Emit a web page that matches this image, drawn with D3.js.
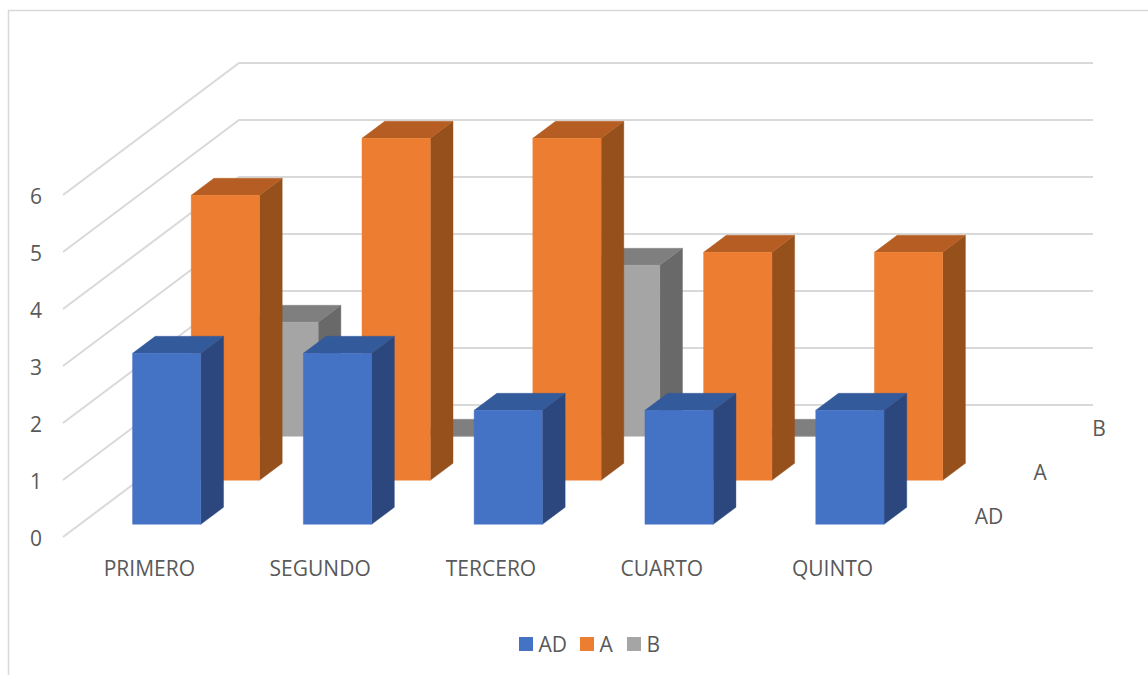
<!DOCTYPE html>
<html>
<head>
<meta charset="utf-8">
<script src="https://cdn.jsdelivr.net/npm/d3@7"></script>
<style>
html,body{margin:0;padding:0;background:#fff;overflow:hidden}
svg{display:block}
text{font-family:"Open Sans",sans-serif;fill:#595959}
</style>
</head>
<body>
<svg id="chart" width="1148" height="675"></svg>
<script>
const categories = ["PRIMERO","SEGUNDO","TERCERO","CUARTO","QUINTO"];
const seriesNames = ["AD","A","B"];
const valuesAD = [3,3,2,2,2];
const valuesA = [5,6,6,4,4];
const valuesB = [2,0,3,0,null];
const yTicks = [0,1,2,3,4,5,6];
const frontColors = ["#4472C4","#ED7D31","#A5A5A5"];
const topColors = ["#335A9A","#B55D22","#7F7F7F"];
const sideColors = ["#2B477E","#95501C","#696969"];

const allValues = [valuesAD, valuesA, valuesB];
const svg = d3.select("#chart");
const fontSize = 21;

// oblique projection
const originX = 63, originY = 537, depthX = 176, depthY = 132;
const xBand = d3.scaleBand().domain(categories).range([0,854]);
const zBand = d3.scaleBand().domain(seriesNames).range([0,1]);
const yScale = d3.scaleLinear().domain([0,6]).range([0,342]);
const px = (x,z) => originX + x + depthX*z;
const py = (v,z) => originY - yScale(v) - depthY*z;
const pt = (x,v,z) => [px(x,z), py(v,z)];
const path = d3.line();
const poly = pts => path(pts) + "Z";

// chart frame
svg.append("path").attr("d","M8.5,675V10.5H1148").attr("fill","none").attr("stroke","#D9D9D9").attr("stroke-width",1.5);

// walls' gridlines
svg.append("g").selectAll("path").data(yTicks).join("path")
  .attr("d", v => path([pt(0,v,0), pt(0,v,1), pt(854,v,1)]))
  .attr("fill","none").attr("stroke","#D9D9D9").attr("stroke-width",2);

// bars, back to front
const barW = xBand.bandwidth()*0.4;
const barD = zBand.bandwidth()*0.387;
[2,1,0].forEach(si => {
  const g = svg.append("g").attr("transform","translate(0.3,0.8)");
  const name = seriesNames[si];
  const zc = zBand(name) + zBand.bandwidth()/2;
  const z0 = zc - barD/2, z1 = zc + barD/2;
  categories.forEach((c,ci) => {
    const v = allValues[si][ci];
    if (v === null) return;
    const x0 = xBand(c) + xBand.bandwidth()/2 - barW/2, x1 = x0 + barW;
    const faces = [
      [sideColors[si], [pt(x1,0,z0), pt(x1,0,z1), pt(x1,v,z1), pt(x1,v,z0)]],
      [topColors[si], [pt(x0,v,z0), pt(x1,v,z0), pt(x1,v,z1), pt(x0,v,z1)]],
      [frontColors[si], [pt(x0,0,z0), pt(x1,0,z0), pt(x1,v,z0), pt(x0,v,z0)]]
    ];
    faces.forEach(([col,pts]) => {
      g.append("path").attr("d",poly(pts)).attr("fill",col).attr("stroke",col).attr("stroke-width",0.4).attr("stroke-linejoin","round");
    });
  });
});

// value axis labels
svg.append("g").selectAll("text").data(yTicks).join("text")
  .attr("x",36).attr("y",v => py(v,0)+1).attr("dy","0.36em")
  .attr("text-anchor","middle").attr("font-size",fontSize).text(d => d);

// category labels
svg.append("g").selectAll("text").data(categories).join("text")
  .attr("x",c => px(xBand(c)+xBand.bandwidth()/2,0)+1).attr("y",originY+31).attr("dy","0.36em")
  .attr("text-anchor","middle").attr("font-size",fontSize).text(d => d);

// depth labels
svg.append("g").selectAll("text").data(seriesNames).join("text")
  .attr("x",s => px(855,zBand(s)+zBand.bandwidth()/2)+27.5)
  .attr("y",s => py(0,zBand(s)+zBand.bandwidth()/2)+1)
  .attr("dy","0.36em").attr("font-size",fontSize).text(d => d);

// legend
const legendX = d3.scaleOrdinal().domain(seriesNames).range([519,580,627]);
const legend = svg.append("g").selectAll("g").data(seriesNames).join("g")
  .attr("transform",s => `translate(${legendX(s)},637)`);
legend.append("rect").attr("width",14).attr("height",14).attr("fill",(s,i) => frontColors[i]);
legend.append("text").attr("x",19.5).attr("y",7).attr("dy","0.36em").attr("font-size",fontSize).text(d => d);
</script>
</body>
</html>
